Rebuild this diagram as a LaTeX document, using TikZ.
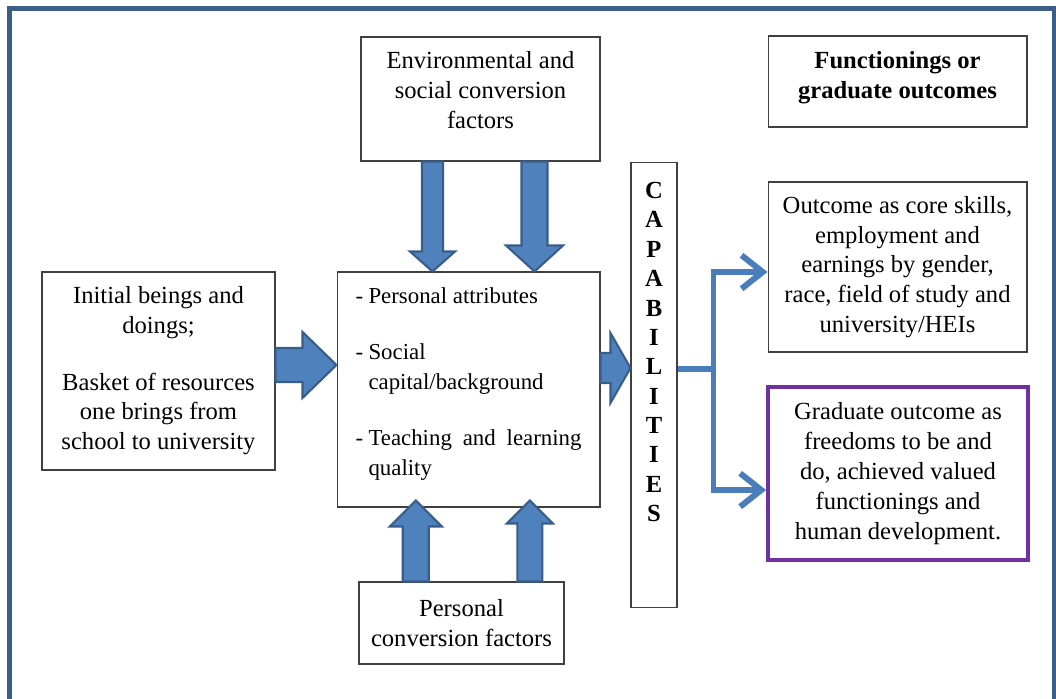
\documentclass[tikz,border=0pt]{standalone}
\usepackage{fontspec}
\setmainfont{Liberation Serif}
\usepackage{tikz}
\usetikzlibrary{calc,arrows.meta}

\definecolor{frameblue}{RGB}{62,94,138}
\definecolor{arrowfill}{RGB}{79,129,189}
\definecolor{arrowline}{RGB}{56,93,138}
\definecolor{forkblue}{RGB}{74,126,187}
\definecolor{gradpurple}{RGB}{112,48,160}

\tikzset{
  box/.style={draw=black!75, line width=0.6pt, inner sep=0pt, align=center, font=\fontsize{14}{17}\selectfont},
  fatarrow/.style={fill=arrowfill, draw=arrowline, line width=1.2pt, line join=miter},
  fork/.style={draw=forkblue, line width=3.4pt, -{Straight Barb[length=12pt,width=19pt]}}
}

% block arrow: tail, tip, shaft half width, head half width, head length (px)
\newcommand\fatarrow[5]{%
  \coordinate (fa-h) at ($(#2)!#5*0.02cm!(#1)$);
  \filldraw[fatarrow] ($(#1)!#3*0.02cm!90:(#2)$) -- ($(fa-h)!#3*0.02cm!-90:(#1)$)
    -- ($(fa-h)!#4*0.02cm!-90:(#1)$) -- (#2) -- ($(fa-h)!#4*0.02cm!90:(#1)$)
    -- ($(fa-h)!#3*0.02cm!90:(#1)$) -- ($(#1)!#3*0.02cm!-90:(#2)$) -- cycle;}

\begin{document}
\begin{tikzpicture}[x=0.02cm, y=-0.02cm]
  \useasboundingbox (0,0) rectangle (1056,699);
  \draw[frameblue, line width=2.6pt] (9.5,699) -- (9.5,8.5) -- (1054,8.5) -- (1054,699);

  \node[box, minimum width=4.78cm, minimum height=2.48cm] (env) at (480.5,99)
    {Environmental and\\social conversion\\factors\\[-6.8pt]\mbox{}};
  \node[box, font=\fontsize{14}{17}\selectfont\bfseries, minimum width=5.18cm, minimum height=1.82cm] (func) at (897.5,81.5)
    {Functionings or\\graduate outcomes\\[-9.6pt]\mbox{}};
  \node[box, minimum width=4.66cm, minimum height=3.96cm] (init) at (158.5,371)
    {Initial beings and\\doings;\\[15pt]Basket of resources\\one brings from\\school to university};
  \node[box, align=justify, text width=4.52cm, font=\fontsize{13}{17}\selectfont, minimum width=5.26cm, minimum height=4.70cm] (mid) at (468.5,389.5)
    {\setlength{\parskip}{15pt}%
     \hangindent=0.26cm \hangafter=1 \makebox[0.26cm][l]{-}Personal attributes\par
     \hangindent=0.26cm \hangafter=1 \makebox[0.26cm][l]{-}Social\\capital/background\par
     \hangindent=0.26cm \hangafter=1 \makebox[0.26cm][l]{-}Teaching and learning\break quality\\[-7.8pt]\mbox{}\par};
  \node[box, font=\fontsize{14}{16.7}\selectfont\bfseries, minimum width=0.92cm, minimum height=8.92cm] (cap) at (654,385)
    {C\\A\\P\\A\\B\\I\\L\\I\\T\\I\\E\\S\\[21pt]\mbox{}};
  \node[box, minimum width=5.18cm, minimum height=3.40cm] (outcome) at (897.5,267)
    {Outcome as core skills,\\employment and\\earnings by gender,\\race, field of study and\\university/HEIs};
  \node[box, draw=gradpurple, line width=2.2pt, minimum width=5.2cm, minimum height=3.46cm] (grad) at (898,473.5)
    {Graduate outcome as\\freedoms to be and\\do, achieved valued\\functionings and\\human development.};
  \node[box, minimum width=4.10cm, minimum height=1.64cm] (pers) at (461.5,623)
    {Personal\\conversion factors};

  % block arrows
  \coordinate (a1) at ($(init.east)+(0,-6)$);
  \fatarrow{a1}{mid.west |- a1}{17}{33}{34}
  \coordinate (a2) at ($(mid.east)+(0,-21.5)$);
  \fatarrow{a2}{cap.west |- a2}{15}{35}{20}
  \coordinate (d1) at ($(env.south west)!0.3!(env.south east)$);
  \fatarrow{d1}{d1 |- mid.north}{10.5}{22.5}{20}
  \coordinate (d2) at ($(env.south west)!0.725!(env.south east)$);
  \fatarrow{d2}{d2 |- mid.north}{13}{28.5}{26}
  \coordinate (u1) at ($(pers.north west)!0.278!(pers.north east)$);
  \coordinate (u1t) at ($(u1 |- mid.south)+(0,-7)$);
  \fatarrow{u1}{u1t}{13}{26}{26}
  \coordinate (u2) at ($(pers.north west)!0.832!(pers.north east)$);
  \coordinate (u2t) at ($(u2 |- mid.south)+(0,-7)$);
  \fatarrow{u2}{u2t}{12.5}{23}{23}

  % capabilities to outcomes
  \coordinate (split) at (713.5,369);
  \draw[fork] (cap.east |- split) -- (split) |- ($(outcome.west)+(0,5)$);
  \draw[fork] (split) |- ($(grad.west)+(0,16.5)$);
\end{tikzpicture}
\end{document}
